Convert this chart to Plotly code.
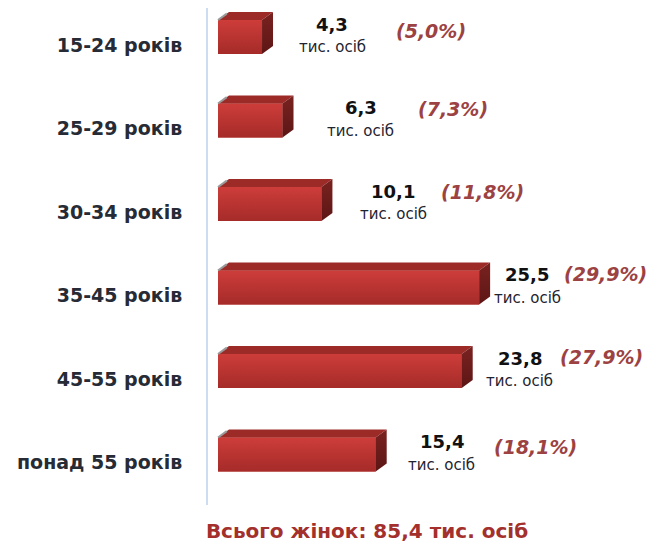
import plotly.graph_objects as go

# ---------------- data ----------------
categories = ["15-24 років", "25-29 років", "30-34 років", "35-45 років", "45-55 років", "понад 55 років"]
values = [4.3, 6.3, 10.1, 25.5, 23.8, 15.4]          # тис. осіб
shares = [5.0, 7.3, 11.8, 29.9, 27.9, 18.1]          # %
total = 85.4
unit = "тис. осіб"

# label placement tweaks (pixels), as in the original hand-placed labels
val_dx = [70, 78, 72, 48, 58, 66]
pct_dx = [99, 92, 89, 78, 82, 94]
pct_dy = [6, 12, 12, 14, 14, 8]


def ua(x):
    return f"{x:.1f}".replace(".", ",")


# ---------------- geometry ----------------
# (the page body has an 8px margin, compensated here)
W, H = 665, 549
PAGE_OFF = 8
ML, MR, MT = 208 - PAGE_OFF, 13, 0
PLOT_H = 505 - PAGE_OFF
MB = H - MT - PLOT_H
PX_PER_X = 10.24
BASE_GAP = 10
x_lo = -BASE_GAP / PX_PER_X
x_hi = x_lo + (W - ML - MR) / PX_PER_X
BAND = 83.5
y_top = -(37 - PAGE_OFF) / BAND
y_bot = y_top + PLOT_H / BAND
half = 17 / BAND
dx = 11 / PX_PER_X
dy = 8 / BAND

FRONT_TOP = "#cd3d3a"
FRONT_BOT = "#a52b29"
TOP_C = "#9c2b28"
SIDE_TOP = "#7a2220"
SIDE_BOT = "#5c1615"
FONT = "DejaVu Sans"

fig = go.Figure()
ypos = list(range(len(categories)))

# front faces (data bars)
fig.add_trace(go.Bar(
    x=values, y=ypos, orientation="h", width=2 * half, base=0,
    marker=dict(color="#bd3734", line=dict(width=0)),
    hoverinfo="skip", showlegend=False,
))

for i, v in zip(ypos, values):
    # gradient overlay for the front face
    fig.add_trace(go.Scatter(
        x=[0, v, v, 0, 0],
        y=[i - half, i - half, i + half, i + half, i - half],
        mode="lines", line=dict(width=0), fill="toself",
        fillgradient=dict(type="vertical",
                          colorscale=[[0, FRONT_BOT], [1, FRONT_TOP]]),
        hoverinfo="skip", showlegend=False,
    ))
    # top face
    fig.add_trace(go.Scatter(
        x=[0, v, v + dx, dx, 0],
        y=[i - half, i - half, i - half - dy, i - half - dy, i - half],
        mode="lines", line=dict(width=0), fill="toself", fillcolor=TOP_C,
        hoverinfo="skip", showlegend=False,
    ))
    # side face
    fig.add_trace(go.Scatter(
        x=[v, v + dx, v + dx, v, v],
        y=[i - half, i - half - dy, i + half - dy, i + half, i - half],
        mode="lines", line=dict(width=0), fill="toself",
        fillgradient=dict(type="vertical",
                          colorscale=[[0, SIDE_BOT], [1, SIDE_TOP]]),
        hoverinfo="skip", showlegend=False,
    ))
    # grey edge highlight at top-left
    fig.add_trace(go.Scatter(
        x=[0, dx * 0.8], y=[i - half, i - half - dy * 0.8],
        mode="lines", line=dict(width=2, color="#9a9a9a"),
        hoverinfo="skip", showlegend=False,
    ))

annotations = []
for i, (v, s) in enumerate(zip(values, shares)):
    annotations.append(dict(
        x=v, y=i, xref="x", yref="y", text=f"<b>{ua(v)}</b>", showarrow=False,
        xanchor="center", yanchor="middle", xshift=val_dx[i], yshift=13,
        font=dict(family=FONT, size=18, color="#111111"),
    ))
    annotations.append(dict(
        x=v, y=i, xref="x", yref="y", text=unit, showarrow=False,
        xanchor="center", yanchor="middle", xshift=val_dx[i], yshift=-10,
        font=dict(family=FONT, size=15, color="#1e2430"),
    ))
    annotations.append(dict(
        x=v, y=i, xref="x", yref="y", text=f"<b><i>({ua(s)}%)</i></b>", showarrow=False,
        xanchor="center", yanchor="middle", xshift=val_dx[i] + pct_dx[i], yshift=pct_dy[i],
        font=dict(family=FONT, size=19, color="#9c4242"),
    ))

fig.update_layout(
    width=W, height=H,
    margin=dict(l=ML, r=MR, t=MT, b=MB),
    paper_bgcolor="white", plot_bgcolor="white",
    showlegend=False,
    barmode="overlay",
    annotations=annotations,
    title=dict(
        text=f"<b>Всього жінок: {ua(total)} {unit}</b>",
        x=(367 - PAGE_OFF) / W, xanchor="center", y=1 - (531 - PAGE_OFF) / H, yanchor="middle",
        font=dict(family=FONT, size=20, color="#a3302c"),
    ),
    xaxis=dict(visible=False, range=[x_lo, x_hi]),
    yaxis=dict(
        range=[y_bot, y_top],
        tickvals=[i + 0.096 for i in ypos], ticktext=categories,
        showline=True, linecolor="#cddcf0", linewidth=2,
        ticks="", showgrid=False, zeroline=False,
        ticklabelstandoff=20,
        tickfont=dict(family=FONT, size=19, color="#262b35", weight="bold"),
    ),
)

fig.write_html("out.html")
